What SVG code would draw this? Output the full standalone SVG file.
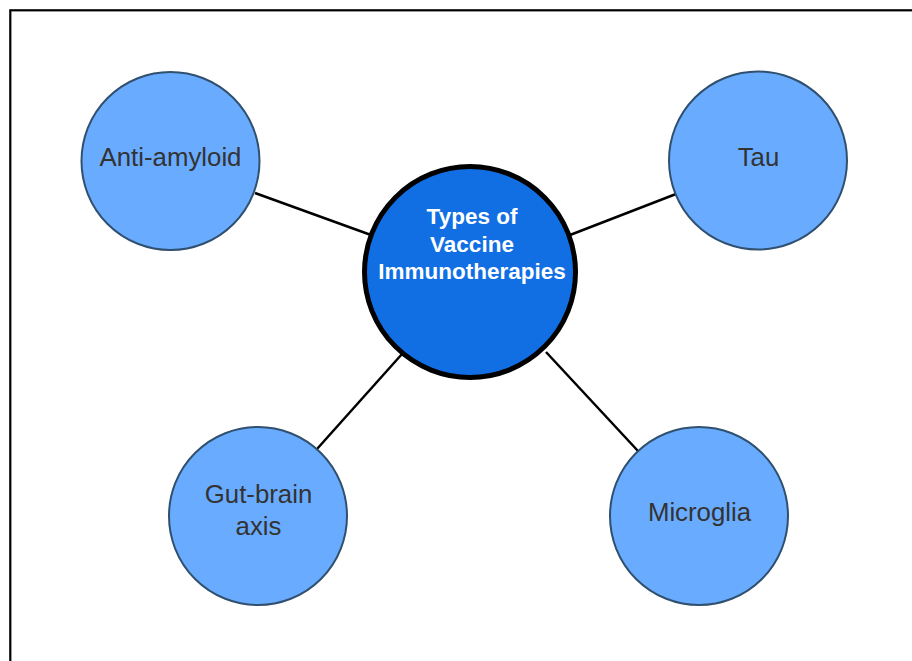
<svg xmlns="http://www.w3.org/2000/svg" width="912" height="661" viewBox="0 0 912 661">
<style>
.frame{fill:#fff;stroke:#000;stroke-width:2.2}
.sat{fill:#69acff;stroke:#30506f;stroke-width:2}
.hub{fill:#126fe3;stroke:#000;stroke-width:5}
.lbl{font-family:"Liberation Sans",Arial,sans-serif;font-size:25.8px;fill:#333;text-anchor:middle}
.hlbl{font-family:"Liberation Sans",Arial,sans-serif;font-size:22.5px;font-weight:bold;fill:#fff;text-anchor:middle}
.conn line{stroke:#000;stroke-width:2.5}
</style>
<rect width="912" height="661" fill="#fff"/>
<rect class="frame" x="10.3" y="10.3" width="920" height="670"/>
<g id="connectors" class="conn">
<line x1="255" y1="193" x2="371" y2="235"/>
<line x1="676" y1="194" x2="570" y2="235"/>
<line x1="317" y1="449" x2="402" y2="354"/>
<line x1="638" y1="451" x2="546" y2="352"/>
</g>
<g id="hub">
<circle class="hub" cx="470" cy="272" r="105.5"/>
<text class="hlbl" x="472" y="224">Types of</text>
<text class="hlbl" x="472" y="251.5">Vaccine</text>
<text class="hlbl" x="472" y="279">Immunotherapies</text>
</g>
<g id="anti-amyloid">
<circle class="sat" cx="170.5" cy="161" r="89"/>
<text class="lbl" x="170.5" y="166">Anti-amyloid</text>
</g>
<g id="tau">
<circle class="sat" cx="758" cy="160.5" r="89"/>
<text class="lbl" x="758.5" y="165.5">Tau</text>
</g>
<g id="gut-brain">
<circle class="sat" cx="258" cy="516" r="89"/>
<text class="lbl" x="258.5" y="503">Gut-brain</text>
<text class="lbl" x="258.5" y="535">axis</text>
</g>
<g id="microglia">
<circle class="sat" cx="699" cy="516" r="89"/>
<text class="lbl" x="699.5" y="520.5">Microglia</text>
</g>
</svg>
